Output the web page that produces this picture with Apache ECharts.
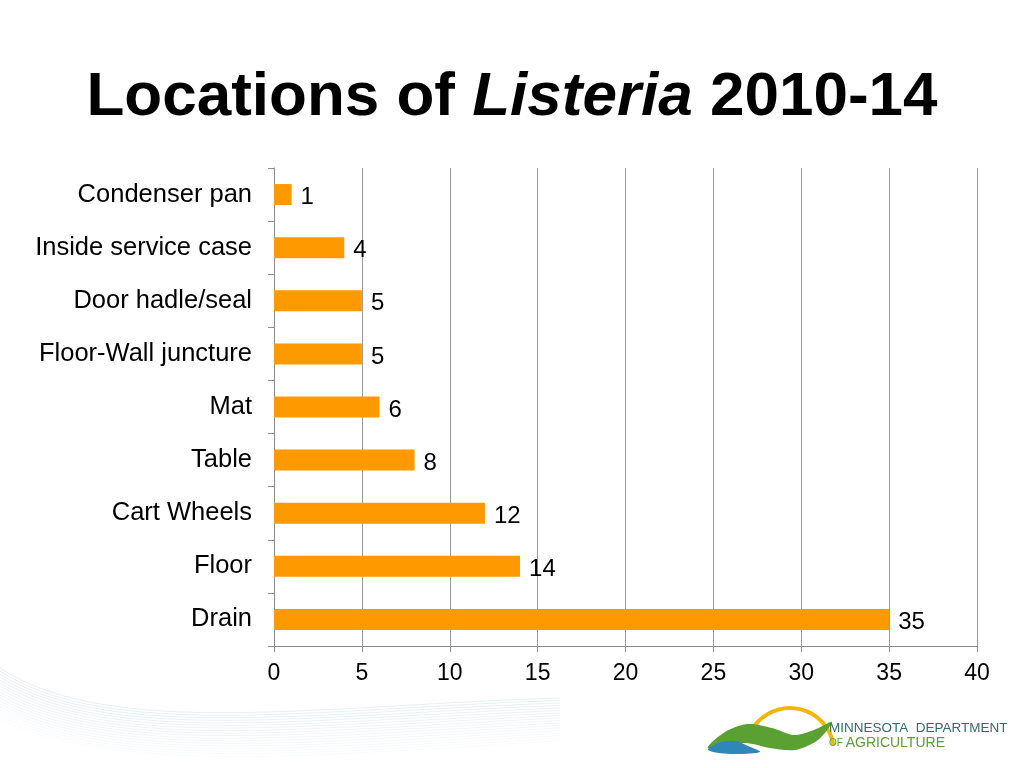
<!DOCTYPE html>
<html>
<head>
<meta charset="utf-8">
<script src="https://cdn.jsdelivr.net/npm/echarts@6/dist/echarts.min.js"></script>
<style>
  html, body { margin: 0; padding: 0; background: #fff; }
  #chart { width: 1024px; height: 768px; }
</style>
</head>
<body>
<div id="chart"></div>
<script>
// data
var locations = ['Condenser pan', 'Inside service case', 'Door hadle/seal', 'Floor-Wall juncture', 'Mat', 'Table', 'Cart Wheels', 'Floor', 'Drain'];
var counts = [1, 4, 5, 5, 6, 8, 12, 14, 35];
var xTicks = [0, 5, 10, 15, 20, 25, 30, 35, 40];

var font = '"Liberation Sans", Arial, Helvetica, sans-serif';

// faint swirl lines in the lower left corner (decoration only)
var swirl = [];
for (var k = 0; k < 18; k++) {
  swirl.push({
    type: 'bezierCurve',
    silent: true,
    shape: {
      x1: 0, y1: 668 + k * 3,
      cpx1: 110, cpy1: 740 + k * 2,
      cpx2: 320, cpy2: 705 + k * 3,
      x2: 560, y2: 698 + k * 2.5
    },
    style: { stroke: 'rgba(150,195,215,' + (0.24 - k * 0.011) + ')', lineWidth: 1, fill: null }
  });
}

var chart = echarts.init(document.getElementById('chart'));
chart.setOption({
  backgroundColor: '#ffffff',
  animation: false,
  title: {
    left: 'center',
    top: 62,
    text: '{n|Locations of }{i|Listeria}{n| 2010-14}',
    textStyle: {
      rich: {
        n: { fontFamily: font, fontSize: 62, fontWeight: 'bold', color: '#000' },
        i: { fontFamily: font, fontSize: 62, fontWeight: 'bold', fontStyle: 'italic', color: '#000' }
      }
    }
  },
  grid: { left: 274, right: 47, top: 168, bottom: 122, containLabel: false },
  xAxis: {
    type: 'value',
    min: xTicks[0],
    max: xTicks[xTicks.length - 1],
    interval: 5,
    axisLine: { show: true, lineStyle: { color: '#8c8c8c', width: 1 } },
    axisTick: { show: true, length: 6, lineStyle: { color: '#8c8c8c' } },
    splitLine: { show: true, lineStyle: { color: '#9a9a9a', width: 1 } },
    axisLabel: { color: '#000', fontFamily: font, fontSize: 23, margin: 16 }
  },
  yAxis: {
    type: 'category',
    inverse: true,
    data: locations,
    axisLine: { show: true, lineStyle: { color: '#8c8c8c', width: 1 } },
    axisTick: { show: true, length: 6, alignWithLabel: false, lineStyle: { color: '#8c8c8c' } },
    axisLabel: { color: '#000', fontFamily: font, fontSize: 25.5, margin: 22, padding: [5, 0, 0, 0] }
  },
  series: [{
    type: 'bar',
    data: counts,
    barWidth: 21,
    itemStyle: { color: '#ff9900' },
    label: {
      show: true,
      position: 'right',
      distance: 9,
      offset: [0, 3],
      color: '#000',
      fontFamily: font,
      fontSize: 24
    }
  }],
  graphic: swirl.concat([
    // department logo
    {
      type: 'arc', silent: true,
      shape: { cx: 790, cy: 752, r: 44, startAngle: Math.PI * 1.08, endAngle: Math.PI * 1.95 },
      style: { stroke: '#f2b705', lineWidth: 4, fill: null }
    },
    {
      type: 'polygon', silent: true,
      shape: { points: [[708, 748], [725, 732], [748, 724], [772, 728], [794, 735], [814, 730], [832, 722], [818, 740], [795, 750], [770, 748], [745, 743]], smooth: 0.3 },
      style: { fill: '#5aa033' }
    },
    {
      type: 'polygon', silent: true,
      shape: { points: [[708, 750], [718, 743], [735, 741], [748, 746], [760, 752], [730, 754]], smooth: 0.3 },
      style: { fill: '#2f86b9' }
    },
    {
      type: 'text', silent: true, left: 829, top: 721,
      style: { text: 'MINNESOTA  DEPARTMENT', fill: '#2e6f6a', font: '13.5px "Liberation Sans", Arial, sans-serif' }
    },
    {
      type: 'text', silent: true, left: 829, top: 736,
      style: { text: '{s|OF }{b|AGRICULTURE}', rich: {
        s: { fill: '#5aa033', fontSize: 10, fontFamily: '"Liberation Sans", Arial, sans-serif' },
        b: { fill: '#5aa033', fontSize: 14, fontFamily: '"Liberation Sans", Arial, sans-serif' }
      } }
    }
  ])
});
</script>
</body>
</html>
